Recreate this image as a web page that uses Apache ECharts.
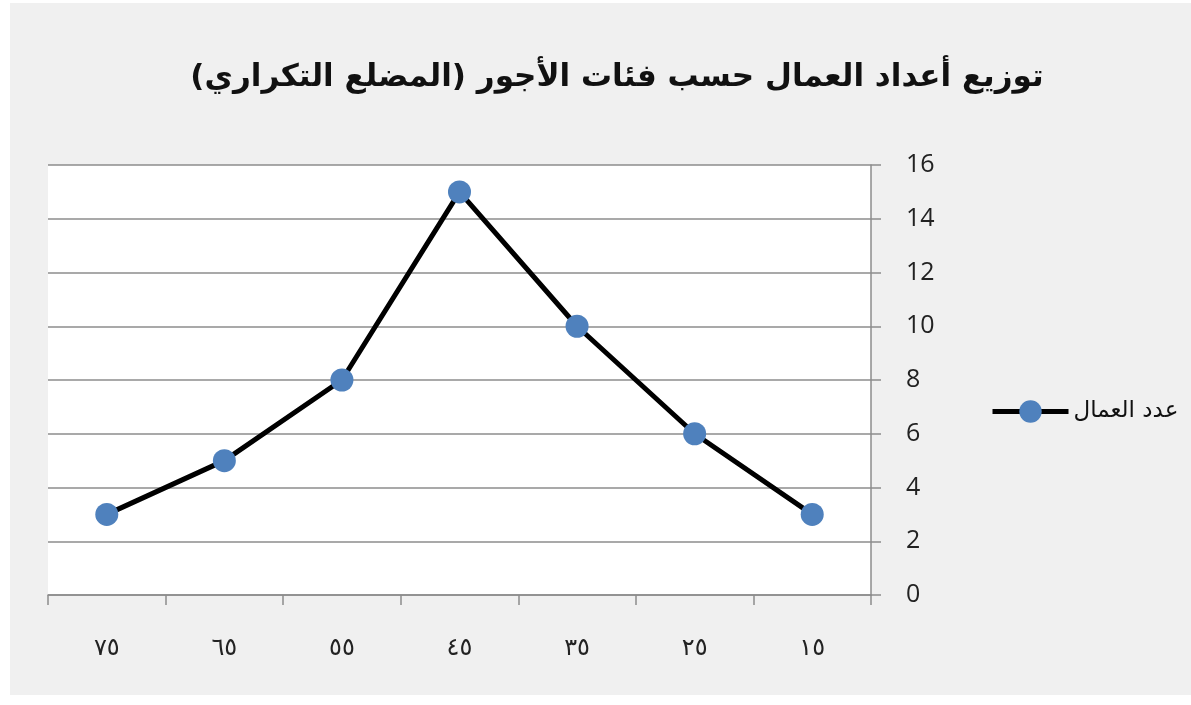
<!DOCTYPE html>
<html>
<head>
<meta charset="utf-8">
<script src="https://cdn.jsdelivr.net/npm/echarts@6/dist/echarts.min.js"></script>
<style>
html,body{margin:0;padding:0;background:#ffffff;}
#wrap{position:absolute;left:10px;top:3px;width:1181px;height:692px;background:#f0f0f0;}
#chart{width:1181px;height:692px;}
</style>
</head>
<body>
<div id="wrap"><div id="chart"></div></div>
<script>
const titleText = 'توزيع أعداد العمال حسب فئات الأجور (المضلع التكراري)';
const seriesName = 'عدد العمال';
const categories = ['١٥', '٢٥', '٣٥', '٤٥', '٥٥', '٦٥', '٧٥'];
const workers = [3, 6, 10, 15, 8, 5, 3];
const yTicks = {min: 0, max: 16, interval: 2};

const chart = echarts.init(document.getElementById('chart'));
chart.setOption({
  backgroundColor: 'transparent',
  animation: false,
  title: {
    text: titleText,
    left: 602,
    top: 54,
    textAlign: 'center',
    textStyle: {fontFamily: 'DejaVu Sans', fontSize: 31, fontWeight: 'bold', color: '#111'}
  },
  legend: {
    show: true,
    left: 975,
    top: 392,
    itemWidth: 76,
    itemHeight: 28,
    itemGap: 4,
    data: [{name: seriesName, lineStyle: {width: 5, color: '#000'}}],
    textStyle: {fontFamily: 'DejaVu Sans', fontSize: 23, color: '#111'}
  },
  grid: {
    left: 38, right: 320, top: 162, bottom: 100,
    show: true, backgroundColor: '#ffffff', borderWidth: 0
  },
  xAxis: {
    type: 'category',
    data: categories,
    inverse: true,
    boundaryGap: true,
    axisLine: {lineStyle: {color: '#8c8c8c', width: 1.5}},
    axisTick: {show: true, length: 10, alignWithLabel: false, lineStyle: {color: '#8c8c8c', width: 1.5}},
    axisLabel: {margin: 42, fontSize: 24, color: '#222', fontFamily: 'DejaVu Sans'},
    splitLine: {show: false}
  },
  yAxis: {
    type: 'value',
    position: 'right',
    min: yTicks.min, max: yTicks.max, interval: yTicks.interval,
    axisLine: {show: true, lineStyle: {color: '#8c8c8c', width: 1.5}},
    axisTick: {show: true, length: 10, lineStyle: {color: '#8c8c8c', width: 1.5}},
    axisLabel: {margin: 35, fontSize: 25, color: '#222', fontFamily: 'Open Sans'},
    splitLine: {show: true, lineStyle: {color: '#8c8c8c', width: 1.5}}
  },
  series: [{
    name: seriesName,
    type: 'line',
    data: workers,
    symbol: 'circle',
    symbolSize: 23,
    itemStyle: {color: '#4f81bd', borderColor: '#4f81bd', borderWidth: 0},
    lineStyle: {color: '#000000', width: 5},
    z: 3
  }]
});
</script>
</body>
</html>
